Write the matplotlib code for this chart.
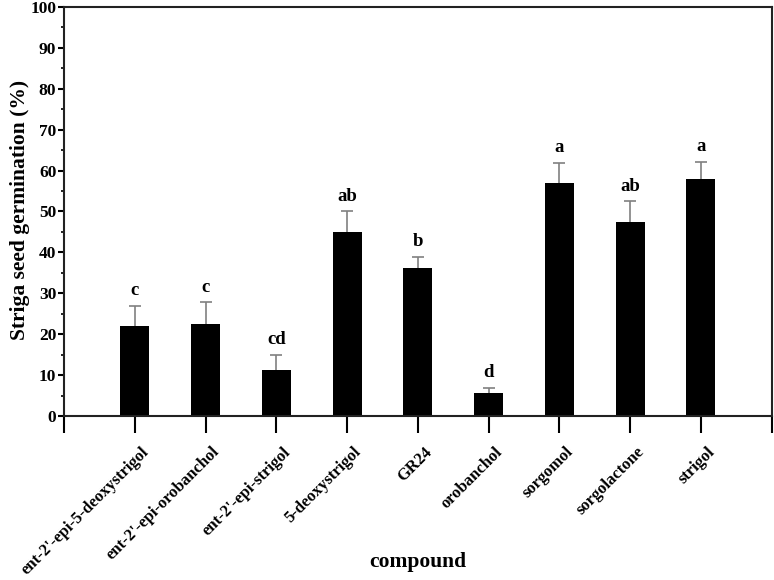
import matplotlib
matplotlib.use("Agg")
import matplotlib.pyplot as plt
import matplotlib.transforms as mtransforms
from matplotlib.ticker import MultipleLocator

# dados
compostos = ["ent-2'-epi-5-deoxystrigol", "ent-2'-epi-orobanchol", "ent-2'-epi-strigol",
             "5-deoxystrigol", "GR24", "orobanchol", "sorgomol", "sorgolactone", "strigol"]
media = [22.0, 22.4, 11.3, 45.0, 36.2, 5.5, 57.0, 47.5, 57.9]
erro = [5.0, 5.4, 3.7, 5.1, 2.7, 1.4, 4.9, 5.0, 4.2]
letras = ["c", "c", "cd", "ab", "b", "d", "a", "ab", "a"]

plt.rcParams['font.family'] = ['Liberation Serif', 'DejaVu Serif']
plt.rcParams['font.weight'] = 'bold'

fig = plt.figure(figsize=(7.74, 5.8), dpi=100)
ax = fig.add_axes([0.0827, 0.2828, 0.9143, 0.7052])

pos = list(range(1, len(compostos) + 1))
ax.bar(pos, media, width=0.41, color='black', zorder=2)
_, caps, _ = ax.errorbar(pos, media, yerr=[[0] * len(erro), erro], fmt='none', ecolor='#808080',
                         elinewidth=1.2, capsize=4, capthick=1.2, zorder=1)
caps[0].remove()  # só a barra de cima

for p, m, e, l in zip(pos, media, erro, letras):
    ax.text(p, m + e + 1.6, l, ha='center', va='bottom', fontsize=13.5, fontweight='bold')

ax.set_xlim(0, 10)
ax.set_ylim(0, 100)
ax.set_xticks(range(0, 11))
ax.set_xticklabels([])
# rótulos do eixo x escritos à mão, deslocados um pouco
desloc = mtransforms.ScaledTranslation(6 / 100, -28 / 100, fig.dpi_scale_trans)
for p, nome in zip(pos, compostos):
    ax.text(p, 0, nome, rotation=45, ha='right', va='top', rotation_mode='anchor',
            fontsize=12, fontweight='bold', transform=ax.get_xaxis_transform() + desloc)
ax.yaxis.set_major_locator(MultipleLocator(10))
ax.yaxis.set_minor_locator(MultipleLocator(5))
ax.tick_params(axis='x', length=12, width=1.5, pad=4)
ax.tick_params(axis='y', which='major', length=4, width=1.5, labelsize=12.5, pad=1.5)
ax.tick_params(axis='y', which='minor', length=2, width=1.2)
for lab in ax.get_yticklabels():
    lab.set_fontweight('bold')

for s in ax.spines.values():
    s.set_linewidth(1.5)
    s.set_color('#222222')

ax.set_ylabel('Striga seed germination (%)', fontsize=15.5, fontweight='bold', va='center')
ax.yaxis.set_label_coords(-0.062, 0.504)
ax.set_xlabel('compound', fontsize=15.5, fontweight='bold', va='center')
ax.xaxis.set_label_coords(0.5, -0.357)

fig.savefig('out.png', dpi=100)
